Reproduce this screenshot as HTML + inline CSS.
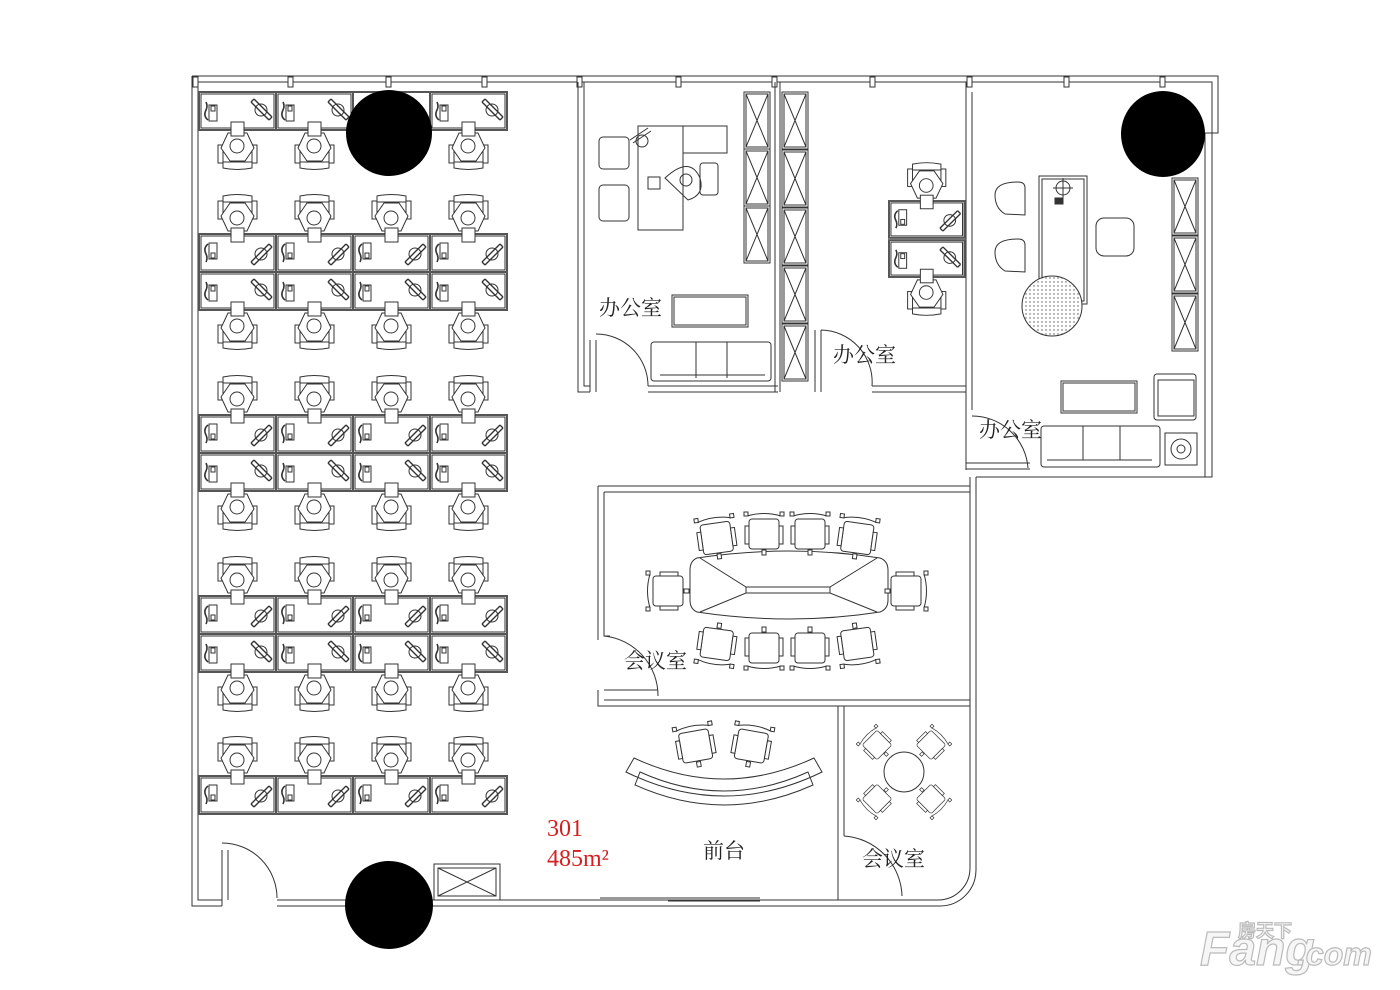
<!DOCTYPE html>
<html><head><meta charset="utf-8"><style>
html,body{margin:0;padding:0;background:#fff}
svg{display:block}
text{font-family:"Liberation Serif","Noto Serif CJK SC","Noto Sans CJK SC",serif}
</style></head><body>
<svg width="1400" height="990" viewBox="0 0 1400 990" xmlns="http://www.w3.org/2000/svg">
<defs>
<g id="ws" fill="none" stroke="#333" stroke-width="1">
  <rect x="0" y="0" width="77" height="38" fill="#fff" stroke="#555" stroke-width="2"/>
  <rect x="2" y="2" width="73" height="34"/>
  <rect x="10" y="9" width="8" height="16"/><rect x="12" y="19" width="4" height="5"/>
  <path d="M9 10 q-5 4 -2 10 q2 4 0 8" stroke-width="1.6"/>
  <circle cx="62" cy="20" r="6"/>
  <path d="M52 28 L70 10 M55 31 L73 13 M52 28 L55 31 M70 10 L73 13" stroke-width="1.4"/>
  <rect x="19" y="-33" width="5" height="18" fill="#fff"/><rect x="53" y="-33" width="5" height="18" fill="#fff"/>
  <path d="M24 -38 Q38 -41 53 -38 L53 -32 L24 -32 Z" fill="#fff"/>
  <path d="M22 -18 L31 -31 L46 -31 L55 -18 L48 -3 L29 -3 Z" fill="#fff"/>
  <rect x="32" y="-6" width="13" height="14" fill="#fff"/>
  <circle cx="38" cy="-16" r="7" fill="#fff"/>
</g>
<g id="cc" fill="#fff" stroke="#333" stroke-width="1">
  <path d="M-17 -20 Q0 -25 17 -20"/>
  <rect x="-15" y="-17" width="30" height="30" rx="3"/>
  <rect x="-19" y="-10" width="4" height="18"/><rect x="15" y="-10" width="4" height="18"/>
  <rect x="-20" y="-24" width="4" height="4"/><rect x="16" y="-24" width="4" height="4"/>
  <rect x="-2" y="14" width="4" height="5"/>
</g>
<g id="cab" fill="none" stroke="#333" stroke-width="1">
  <rect x="0" y="0" width="26" height="57"/><rect x="2" y="2" width="22" height="53"/>
  <path d="M2 2 L24 55 M24 2 L2 55"/>
</g>
<pattern id="dots" width="4" height="4" patternUnits="userSpaceOnUse"><rect width="4" height="4" fill="#fff"/><circle cx="2" cy="2" r="0.7" fill="#555"/></pattern>
</defs>

<g fill="none" stroke="#333" stroke-width="1">
<path d="M192 76 H1218 V133 H1205 M192 82 H1212 V133"/>
<g fill="#fff">
<rect x="193" y="77" width="5" height="10"/><rect x="288" y="77" width="5" height="10"/><rect x="386" y="77" width="5" height="10"/><rect x="482" y="77" width="5" height="10"/><rect x="577" y="77" width="5" height="10"/><rect x="676" y="77" width="5" height="10"/><rect x="772" y="77" width="5" height="10"/><rect x="870" y="77" width="5" height="10"/><rect x="967" y="77" width="5" height="10"/><rect x="1064" y="77" width="5" height="10"/><rect x="1160" y="77" width="5" height="10"/>
</g>
<path d="M192 76 V906 H222 M198 82 V900 H222"/>
<path d="M222 850 V906 M228 850 V900 M222 843 A55 55 0 0 1 277 898"/>
<path d="M277 900 H350 M277 906 H350"/>
<path d="M432 900 H938 A32 32 0 0 0 970 868 V477 M432 906 H940 A36 36 0 0 0 976 870 V477"/>
<path d="M600 898 H760 M668 901 H760"/>
<path d="M1205 133 V477 H976 M1212 133 V477 H1205"/>
<path d="M578 82 V392 H590 M584 82 V386 H590"/>
<path d="M590 340 V392 M596 340 V392"/>
<path d="M596 334 A52 52 0 0 1 648 386"/>
<path d="M648 386 H778 M648 392 H778"/>
<path d="M775 82 V392 M780 82 V392"/>
<path d="M815 330 V392 M821 330 V392 M821 330 A52 52 0 0 1 872 386 M872 386 H966 M872 392 H966"/>
<path d="M966 82 V410 M972 92 V410"/>
<path d="M966 410 V470 M972 416 A56 56 0 0 1 1028 468 M966 463 H1030 M966 469 H1030"/>
<path d="M598 486 H970 M604 492 H970 M598 486 V640 M604 492 V636 H610"/>
<path d="M604 636 A60 60 0 0 1 658 696"/>
<path d="M598 690 V706 H970 M604 690 H658 M604 700 H970"/>
<path d="M838 706 V836 M844 706 V836 M844 836 A62 62 0 0 1 902 896 M838 836 V900"/>
</g>
<g>
<use href="#ws" transform="translate(199,130) scale(1,-1)"/>
<use href="#ws" transform="translate(276,130) scale(1,-1)"/>
<use href="#ws" transform="translate(430,130) scale(1,-1)"/>
<rect x="353" y="92" width="77" height="38" fill="none" stroke="#555" stroke-width="2"/>
</g>
<g>
<use href="#ws" x="199" y="234"/><use href="#ws" x="276" y="234"/><use href="#ws" x="353" y="234"/><use href="#ws" x="430" y="234"/>
<use href="#ws" transform="translate(199,310) scale(1,-1)"/><use href="#ws" transform="translate(276,310) scale(1,-1)"/><use href="#ws" transform="translate(353,310) scale(1,-1)"/><use href="#ws" transform="translate(430,310) scale(1,-1)"/>
<use href="#ws" x="199" y="415"/><use href="#ws" x="276" y="415"/><use href="#ws" x="353" y="415"/><use href="#ws" x="430" y="415"/>
<use href="#ws" transform="translate(199,491) scale(1,-1)"/><use href="#ws" transform="translate(276,491) scale(1,-1)"/><use href="#ws" transform="translate(353,491) scale(1,-1)"/><use href="#ws" transform="translate(430,491) scale(1,-1)"/>
<use href="#ws" x="199" y="596"/><use href="#ws" x="276" y="596"/><use href="#ws" x="353" y="596"/><use href="#ws" x="430" y="596"/>
<use href="#ws" transform="translate(199,672) scale(1,-1)"/><use href="#ws" transform="translate(276,672) scale(1,-1)"/><use href="#ws" transform="translate(353,672) scale(1,-1)"/><use href="#ws" transform="translate(430,672) scale(1,-1)"/>
<use href="#ws" x="199" y="776"/><use href="#ws" x="276" y="776"/><use href="#ws" x="353" y="776"/><use href="#ws" x="430" y="776"/>
</g>
<use href="#ws" transform="translate(889,201) scale(0.98,0.97)"/>
<use href="#ws" transform="translate(889,277) scale(0.98,-0.97)"/>

<circle cx="389" cy="133" r="43" fill="#000"/>
<ellipse cx="1163" cy="134" rx="42" ry="43" fill="#000"/>
<circle cx="389" cy="905" r="44" fill="#000"/>

<g fill="none" stroke="#333" stroke-width="1">
<rect x="638" y="126" width="45" height="104"/><rect x="683" y="126" width="44" height="27"/>
<path d="M630 140 L648 128 M633 143 L651 131"/><circle cx="642" cy="141" r="6"/>
<rect x="599" y="137" width="30" height="32" rx="4"/><rect x="599" y="185" width="30" height="36" rx="4"/>
<rect x="648" y="177" width="12" height="12"/>
<path d="M665 178 Q690 155 700 178 Q705 195 688 200 Z"/><circle cx="686" cy="180" r="6"/>
<rect x="700" y="163" width="18" height="32" rx="3"/>
<rect x="672" y="295" width="76" height="32"/><rect x="674" y="297" width="72" height="28"/>
<rect x="651" y="342" width="120" height="39" rx="3"/><path d="M660 375 H765 M696 342 V378 M727 342 V378"/>
<use href="#cab" x="744" y="92"/><use href="#cab" x="744" y="149"/><use href="#cab" x="744" y="206"/>
<use href="#cab" x="782" y="92"/><use href="#cab" x="782" y="150"/><use href="#cab" x="782" y="208"/><use href="#cab" x="782" y="266"/><use href="#cab" x="782" y="324"/>
<rect x="1039" y="176" width="48" height="128"/><rect x="1042" y="179" width="42" height="122"/>
<circle cx="1063" cy="188" r="7"/><path d="M1053 188 H1073 M1063 178 V198"/>
<rect x="1055" y="198" width="8" height="6" fill="#333"/>
<circle cx="1052" cy="306" r="30" fill="url(#dots)"/>
<path d="M1025 215 V188 Q1025 182 1018 182 Q995 182 995 195 Q995 208 1005 214 Z"/>
<path d="M1025 272 V245 Q1025 239 1018 239 Q995 239 995 252 Q995 265 1005 271 Z"/>
<rect x="1096" y="218" width="38" height="38" rx="8"/>
<use href="#cab" x="1172" y="178"/><use href="#cab" x="1172" y="236"/><use href="#cab" x="1172" y="294"/>
<rect x="1061" y="381" width="76" height="32"/><rect x="1063" y="383" width="72" height="28"/>
<rect x="1041" y="426" width="119" height="41" rx="3"/><path d="M1047 460 H1152 M1083 426 V460 M1120 426 V460"/>
<rect x="1154" y="374" width="42" height="46" rx="3"/><rect x="1158" y="380" width="36" height="36"/>
<rect x="1165" y="433" width="32" height="32"/><circle cx="1181" cy="449" r="10"/><circle cx="1181" cy="449" r="4"/>
<path d="M697 558 Q790 544 880 558 Q888 561 888 570 V600 Q888 609 880 612 Q790 626 697 612 Q690 609 690 600 V570 Q690 561 697 558 Z"/>
<path d="M700 558 L746 587 H830 L877 558 M700 612 L746 593 H830 L877 612 M746 587 V593 M830 587 V593"/>
</g>
<use href="#cc" transform="translate(717,540) rotate(-8)"/>
<use href="#cc" transform="translate(764,536)"/>
<use href="#cc" transform="translate(810,536)"/>
<use href="#cc" transform="translate(857,540) rotate(8)"/>
<use href="#cc" transform="translate(717,642) rotate(188)"/>
<use href="#cc" transform="translate(764,646) rotate(180)"/>
<use href="#cc" transform="translate(810,646) rotate(180)"/>
<use href="#cc" transform="translate(857,642) rotate(172)"/>
<use href="#cc" transform="translate(670,591) rotate(-90)"/>
<use href="#cc" transform="translate(904,591) rotate(90)"/>
<use href="#cc" transform="translate(696,748) rotate(-10)"/>
<use href="#cc" transform="translate(751,748) rotate(10)"/>
<g fill="none" stroke="#333" stroke-width="1">
<path d="M626 772 L634 758 Q724 800 814 758 L822 772 Q724 820 626 772 Z"/>
<path d="M635 785 L640 772 Q724 810 808 772 L813 785 Q724 825 635 785 Z"/>
<circle cx="904" cy="772" r="20"/>
</g>
<use href="#cc" transform="translate(878,746) rotate(-45) scale(0.7)"/>
<use href="#cc" transform="translate(930,746) rotate(45) scale(0.7)"/>
<use href="#cc" transform="translate(878,798) rotate(-135) scale(0.7)"/>
<use href="#cc" transform="translate(930,798) rotate(135) scale(0.7)"/>
<g fill="none" stroke="#333"><rect x="434" y="864" width="66" height="36"/><rect x="438" y="868" width="58" height="28"/><path d="M438 868 L496 896 M496 868 L438 896"/></g>

<g font-size="21" fill="#222">
<text x="599" y="315">办公室</text>
<text x="833" y="362">办公室</text>
<text x="979" y="437">办公室</text>
<text x="624" y="668">会议室</text>
<text x="862" y="866">会议室</text>
<text x="703" y="858">前台</text>
</g>
<text x="547" y="836" font-size="24" fill="#d42020">301</text>
<text x="547" y="866" font-size="24" fill="#d42020">485m²</text>
<g fill="#f6f6f6" stroke="#bbb" stroke-width="1.2" style="font-family:'Liberation Sans',sans-serif;font-weight:bold;font-style:italic">
<text x="1200" y="965" font-size="48" style="font-family:'Liberation Sans',sans-serif">Fang</text>
<text x="1297" y="965" font-size="32" style="font-family:'Liberation Sans',sans-serif">.com</text>
<text x="1238" y="937" font-size="18" style="font-family:'Noto Sans CJK SC',sans-serif;font-style:normal">房天下</text>
</g>
</svg>
</body></html>
